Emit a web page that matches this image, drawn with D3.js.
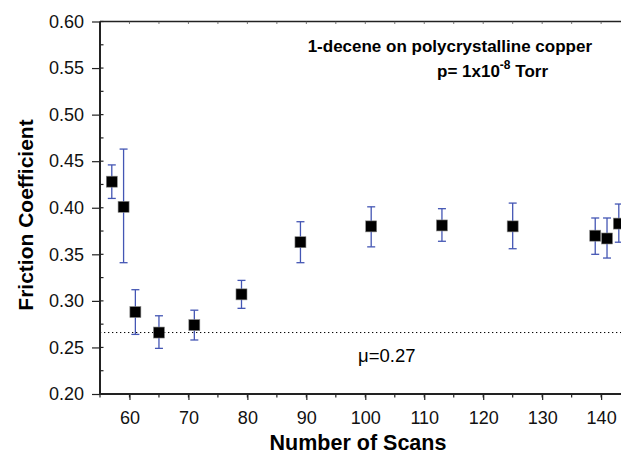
<!DOCTYPE html>
<html>
<head>
<meta charset="utf-8">
<script src="https://cdn.jsdelivr.net/npm/d3@7"></script>
<style>
  body { margin: 0; background: #fff; }
  svg { display: block; font-family: "Liberation Sans", Arial, sans-serif; }
</style>
</head>
<body>
<svg id="chart" width="621" height="457"></svg>
<script>
// scan number and friction coefficient, with error bar ends
var scans = [57, 59, 61, 65, 71, 79, 89, 101, 113, 125, 139, 141, 143];
var friction = [0.428, 0.401, 0.288, 0.266, 0.274, 0.307, 0.363, 0.380, 0.381, 0.380, 0.370, 0.367, 0.383];
var errHigh = [0.446, 0.463, 0.312, 0.284, 0.290, 0.322, 0.385, 0.401, 0.399, 0.405, 0.389, 0.389, 0.404];
var errLow = [0.410, 0.341, 0.264, 0.249, 0.258, 0.292, 0.341, 0.358, 0.364, 0.356, 0.350, 0.346, 0.363];
var xTicks = [60, 70, 80, 90, 100, 110, 120, 130, 140];
var yTicks = [0.20, 0.25, 0.30, 0.35, 0.40, 0.45, 0.50, 0.55, 0.60];
var muLine = 0.266;

var svg = d3.select("#chart");

var x = d3.scaleLinear().domain([55, 145]).range([100, 630.6]);
var y = d3.scaleLinear().domain([0.2, 0.6]).range([394, 21.5]);

var xMinor = d3.range(55, 146, 5);
var yMinor = d3.range(0.2, 0.6001, 0.025);

// top frame line with small inward ticks
svg.append("line")
	.attr("x1", 100).attr("x2", 621)
	.attr("y1", y(0.6)).attr("y2", y(0.6))
	.attr("stroke", "#222").attr("stroke-width", 1.3);
svg.selectAll(".topTick").data(xMinor).enter().append("line")
	.attr("x1", function (d) { return x(d); })
	.attr("x2", function (d) { return x(d); })
	.attr("y1", y(0.6)).attr("y2", y(0.6) + 2.5)
	.attr("stroke", "#555").attr("stroke-width", 0.8);

// dotted reference line
svg.append("line")
	.attr("x1", 100).attr("x2", 621)
	.attr("y1", y(muLine)).attr("y2", y(muLine))
	.attr("stroke", "#000").attr("stroke-width", 1)
	.attr("stroke-dasharray", "1.3,2.7");

// bottom axis
var xAxis = d3.axisBottom(x).tickValues(xTicks).tickSize(6).tickPadding(11)
	.tickFormat(d3.format("d"));
var gx = svg.append("g").attr("transform", "translate(0," + y(0.2) + ")").call(xAxis);
gx.select(".domain").remove();
gx.selectAll(".minor").data(xMinor).enter().append("line")
	.attr("class", "minor")
	.attr("x1", function (d) { return x(d); })
	.attr("x2", function (d) { return x(d); })
	.attr("y1", 0).attr("y2", 3.5)
	.attr("stroke", "#222").attr("stroke-width", 1.2);
gx.append("line").attr("x1", 99).attr("x2", 621).attr("y1", 0).attr("y2", 0)
	.attr("stroke", "#222").attr("stroke-width", 2);
gx.selectAll(".tick line").attr("stroke", "#222").attr("stroke-width", 1.2);
gx.selectAll(".tick text").attr("font-size", 18).attr("fill", "#111");

// left axis
var yAxis = d3.axisLeft(y).tickValues(yTicks).tickSize(8).tickPadding(8)
	.tickFormat(d3.format(".2f"));
var gy = svg.append("g").attr("transform", "translate(100,0)").call(yAxis);
gy.select(".domain").remove();
gy.selectAll(".minor").data(yMinor).enter().append("line")
	.attr("class", "minor")
	.attr("x1", 0).attr("x2", 3.5)
	.attr("y1", function (d) { return y(d); })
	.attr("y2", function (d) { return y(d); })
	.attr("stroke", "#222").attr("stroke-width", 1.2);
gy.append("line").attr("x1", 0).attr("x2", 0).attr("y1", y(0.6)).attr("y2", y(0.2) + 1)
	.attr("stroke", "#222").attr("stroke-width", 2);
gy.selectAll(".tick line").attr("stroke", "#222").attr("stroke-width", 1.2);
gy.selectAll(".tick text").attr("font-size", 18).attr("fill", "#111");

// error bars
var bars = svg.append("g");
scans.forEach(function (s, i) {
	var cx = x(s);
	bars.append("line")
		.attr("x1", cx).attr("x2", cx)
		.attr("y1", y(errLow[i])).attr("y2", y(errHigh[i]))
		.attr("stroke", "#4456b4").attr("stroke-width", 1.3);
	[errLow[i], errHigh[i]].forEach(function (v) {
		bars.append("line")
			.attr("x1", cx - 4).attr("x2", cx + 4)
			.attr("y1", y(v)).attr("y2", y(v))
			.attr("stroke", "#4456b4").attr("stroke-width", 1.3);
	});
});

// square markers
var side = 11;
svg.selectAll(".pt").data(scans).enter().append("rect")
	.attr("class", "pt")
	.attr("x", function (d) { return x(d) - side / 2; })
	.attr("y", function (d, i) { return y(friction[i]) - side / 2; })
	.attr("width", side).attr("height", side)
	.attr("fill", "#000")
	.attr("stroke", "#888").attr("stroke-width", 0.6);

// annotations
svg.append("text")
	.attr("x", 592).attr("y", 52)
	.attr("text-anchor", "end")
	.attr("font-size", 17).attr("font-weight", "bold")
	.text("1-decene on polycrystalline copper");
var p = svg.append("text")
	.attr("x", 437).attr("y", 77)
	.attr("font-size", 17).attr("font-weight", "bold");
p.append("tspan").text("p= 1x10");
p.append("tspan").attr("dy", -8).attr("font-size", 12).text("-8");
p.append("tspan").attr("dy", 8).text(" Torr");

svg.append("text")
	.attr("x", 358).attr("y", 362)
	.attr("font-size", 18.5)
	.text("\u03bc=0.27");

// axis titles
svg.append("text")
	.attr("x", 358).attr("y", 450)
	.attr("text-anchor", "middle")
	.attr("font-size", 21.5).attr("font-weight", "bold")
	.text("Number of Scans");
svg.append("text")
	.attr("transform", "translate(33,215) rotate(-90)")
	.attr("text-anchor", "middle")
	.attr("font-size", 21).attr("font-weight", "bold")
	.text("Friction Coefficient");
</script>
</body>
</html>
